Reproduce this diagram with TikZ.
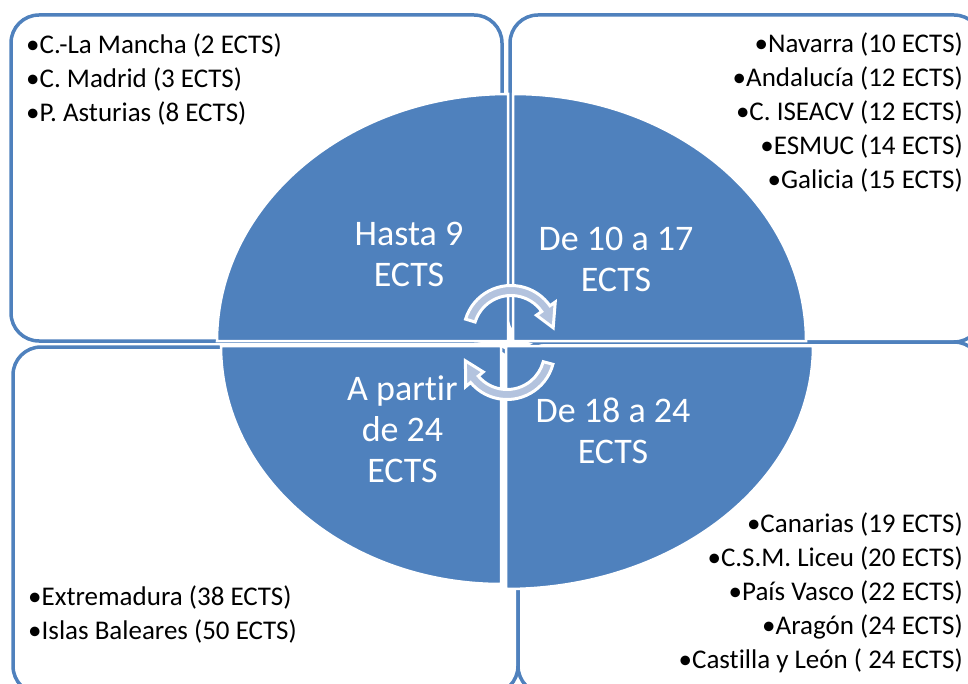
\documentclass[tikz,border=0pt]{standalone}
\usepackage{fontspec}
\setmainfont{Carlito}[Ligatures=NoCommon]
\usetikzlibrary{calc}
\definecolor{accent}{HTML}{4F81BD}
\definecolor{tint}{HTML}{B3C3DE}
\tikzset{
  panel/.style={draw=accent, line width=3.5pt, fill=white, rounded corners=28pt},
  quarter/.style={fill=accent, draw=white, line width=2.5pt},
  cyc/.style={fill=tint, draw=white, line width=3pt, line join=miter},
  lst/.style={font=\fontsize{27}{34}\selectfont, inner sep=0pt},
  big/.style={font=\fontsize{36}{41}\selectfont, text=white, align=center, inner sep=0pt},
}
\begin{document}
\begin{tikzpicture}[x=1pt, y=-1pt]
\useasboundingbox (0,0) rectangle (968,684);
\clip (0,0) rectangle (968,684);
% four boxes
\draw[panel] (11,15) rectangle (502,341);
\draw[panel] (510,15) rectangle (982,342);
\draw[panel] (13,347) rectangle (518,694);
\draw[panel] (518,342) rectangle (982,694);

% quarters of the ellipse
\coordinate (qa) at (508,341);
\coordinate (qb) at (513,341);
\coordinate (qc) at (501,346);
\coordinate (qd) at (506,346);
\draw[quarter] (qa) -- ++(-291,0) arc[start angle=180, end angle=270, x radius=291, y radius=247] -- cycle;
\draw[quarter] (qb) -- ++(0,-247) arc[start angle=270, end angle=360, x radius=293, y radius=247] -- cycle;
\draw[quarter] (qc) -- ++(-280,0) arc[start angle=180, end angle=90, x radius=280, y radius=238] -- cycle;
\draw[quarter] (qd) -- ++(307,0) arc[start angle=0, end angle=90, x radius=307, y radius=243] -- cycle;

% the two round arrows
\coordinate (ta) at (511,333);
\coordinate (ba) at (507,352);
\draw[cyc] ($(ta)+(197:47.5)$) arc[start angle=197, end angle=325, radius=47.5]
  -- ($(ta)+(325:54)$) -- ($(ta)+(353:42.5)$) -- ($(ta)+(325:31)$) -- ($(ta)+(325:37.5)$)
  arc[start angle=325, end angle=197, radius=37.5] -- cycle;
\draw[cyc] ($(ba)+(15:47.5)$) arc[start angle=15, end angle=140, radius=47.5]
  -- ($(ba)+(140:54)$) -- ($(ba)+(168:42.5)$) -- ($(ba)+(140:31)$) -- ($(ba)+(140:37.5)$)
  arc[start angle=140, end angle=15, radius=37.5] -- cycle;

% labels
\node[big] (hasta) at (409,254.5) {Hasta 9\\ECTS};
\node[big] (diez) at (616,259.5) {De 10 a 17\\ECTS};
\node[big] (partir) at (402.5,429.5) {A partir\\de 24\\ECTS};
\node[big] (dieciocho) at (613,431) {De 18 a 24\\ECTS};

\node[lst, anchor=north west, align=left] (tl) at (26,34)
  {•C.-La Mancha (2 ECTS)\\•C. Madrid (3 ECTS)\\•P. Asturias (8 ECTS)};
\node[lst, anchor=north east, align=right] (tr) at (963,33)
  {•Navarra (10 ECTS)\\•Andalucía (12 ECTS)\\•C. ISEACV (12 ECTS)\\•ESMUC (14 ECTS)\\•Galicia (15 ECTS)};
\node[lst, anchor=north west, align=left] (bl) at (28,586)
  {•Extremadura (38 ECTS)\\•Islas Baleares (50 ECTS)};
\node[lst, anchor=north east, align=right] (br) at (963,513)
  {•Canarias (19 ECTS)\\•C.S.M. Liceu (20 ECTS)\\•País Vasco (22 ECTS)\\•Aragón (24 ECTS)\\•Castilla y León ( 24 ECTS)};
\end{tikzpicture}
\end{document}
